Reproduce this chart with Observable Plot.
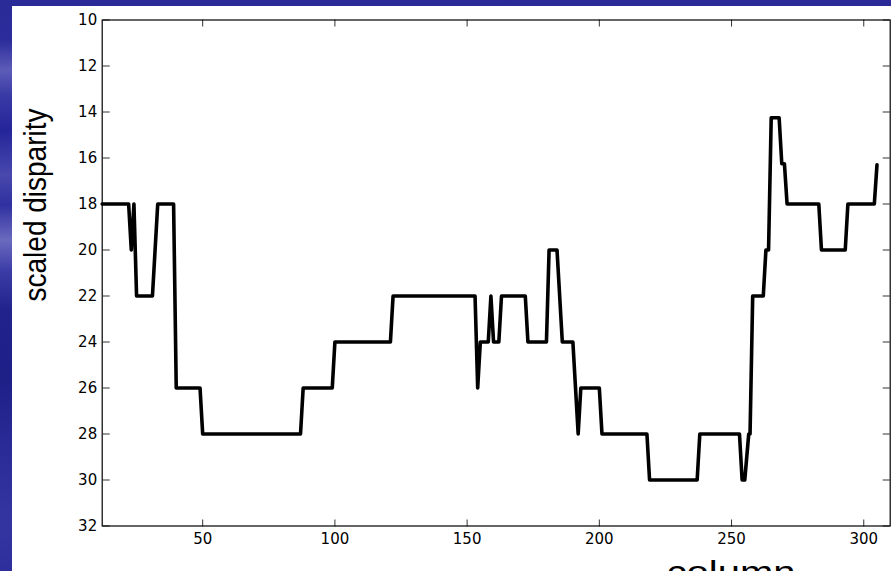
<!DOCTYPE html>
<html>
<head>
<meta charset="utf-8">
<script src="https://cdn.jsdelivr.net/npm/d3@7"></script>
<script src="https://cdn.jsdelivr.net/npm/@observablehq/plot@0.6"></script>
<style>
  html, body { margin: 0; padding: 0; width: 891px; height: 571px; overflow: hidden; }
  body {
    position: relative;
    background: linear-gradient(to bottom,
      #2a2a98 0px, #2c2c9c 40px, #5c5cb8 70px, #3a3aa6 95px, #25259a 130px,
      #4848ad 175px, #3030a0 205px, #6a6abf 240px, #3d3da8 270px, #22228c 310px,
      #1f1f88 380px, #2a2a96 440px, #3535a2 520px, #2e2e9c 571px);
  }
  #panel { position: absolute; left: 12px; top: 6px; width: 879px; height: 565px; background: #fff; }
  #chart { position: absolute; left: 0; top: 0; }
</style>
</head>
<body>
<div id="panel"></div>
<div id="chart"></div>
<script>
// Polyline vertices (column, scaled disparity)
const column = [12,22,23,24,25,31,33,39,40,49,50,87,88,99,100,121,122,153,154,155,158,159,160,162,163,172,173,180,181,184,186,190,192,193,200,201,218,219,237,238,253,254,255,256.5,257,258,262,263,264,265,268,269,270,271,283,284,293,294,304,305];
const disparity = [18,18,20,18,22,22,18,18,26,26,28,28,26,26,24,24,22,22,26,24,24,22,24,24,22,22,24,24,20,20,24,24,28,26,26,28,28,30,30,28,28,30,30,28,28,22,22,20,20,14.25,14.25,16.25,16.25,18,18,20,20,18,18,16.3];

const xTicks = [50, 100, 150, 200, 250, 300];
const yTicks = [10, 12, 14, 16, 18, 20, 22, 24, 26, 28, 30, 32];
const xDomain = [12, 310];
const yDomain = [10, 32];
const xLabel = "column";
const yLabel = "scaled disparity";

const data = column.map((c, i) => ({column: c, disparity: disparity[i]}));

const tickFont = "DejaVu Sans, sans-serif";
const plot = Plot.plot({
  width: 891,
  height: 571,
  marginTop: 19.5,
  marginBottom: 45.5,
  marginLeft: 101.7,
  marginRight: 1.3,
  style: {background: "transparent", fontFamily: tickFont, fontSize: "15px", color: "black", overflow: "visible"},
  x: {domain: xDomain, label: null},
  y: {domain: yDomain, reverse: true, label: null},
  marks: [
    // tick labels
    Plot.axisX(xTicks, {anchor: "bottom", tickSize: 0, tickPadding: 7, label: null, fill: "black"}),
    Plot.axisY(yTicks, {anchor: "left", tickSize: 0, tickPadding: 5, label: null, fill: "black"}),
    // inward ticks on all four sides
    Plot.axisX(xTicks, {anchor: "top", frameAnchor: "bottom", tickSize: 7, tickFormat: () => "", label: null, stroke: "#333"}),
    Plot.axisX(xTicks, {anchor: "bottom", frameAnchor: "top", tickSize: 7, tickFormat: () => "", label: null, stroke: "#333"}),
    Plot.axisY(yTicks, {anchor: "right", frameAnchor: "left", tickSize: 7, tickFormat: () => "", label: null, stroke: "#333"}),
    Plot.axisY(yTicks, {anchor: "left", frameAnchor: "right", tickSize: 7, tickFormat: () => "", label: null, stroke: "#333"}),
    Plot.frame({stroke: "black", strokeWidth: 1.2}),
    Plot.line(data, {x: "column", y: "disparity", stroke: "black", strokeWidth: 3.6, strokeLinejoin: "round"})
  ]
});

const svg = d3.select(plot);
svg.selectAll('[aria-label="x-axis tick label"], [aria-label="y-axis tick label"]')
  .style("font-size", "15px")
  .style("font-family", tickFont);
svg.selectAll('[aria-label="x-axis tick label"] text, [aria-label="y-axis tick label"] text')
  .style("font-size", "15px");
svg.append("text")
  .attr("transform", "translate(45.7,205) rotate(-90) scale(1,1.13)")
  .attr("text-anchor", "middle")
  .attr("font-family", "Liberation Sans, Arial, sans-serif")
  .attr("font-size", 28)
  .attr("fill", "black")
  .text(yLabel);
svg.append("text")
  .attr("transform", "translate(731,582.5) scale(1.25,1)")
  .attr("text-anchor", "middle")
  .attr("font-family", "Liberation Sans, Arial, sans-serif")
  .attr("font-size", 32)
  .attr("fill", "black")
  .text(xLabel);

document.getElementById("chart").appendChild(plot);
</script>
</body>
</html>
